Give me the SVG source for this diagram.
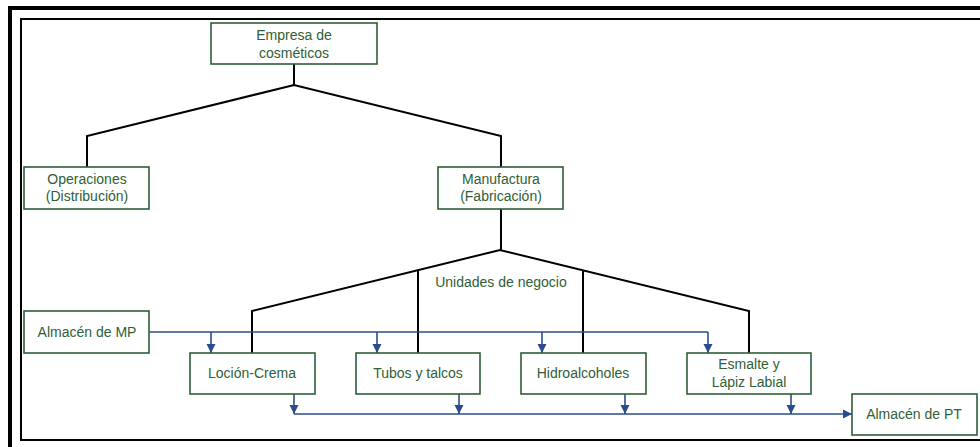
<svg xmlns="http://www.w3.org/2000/svg" width="980" height="447" viewBox="0 0 980 447">
<style>
.box rect{fill:#fff;stroke:#2F5E37;stroke-width:1.6}
text{font-family:"Liberation Sans",Arial,sans-serif;font-size:14px;fill:#2F5E37;text-anchor:middle;dominant-baseline:central}
.tree{fill:none;stroke:#000;stroke-width:2}
.flow{fill:none;stroke:#2B4C8C;stroke-width:1.6}
</style>
<defs>
<marker id="ah" markerWidth="10" markerHeight="10" refX="9" refY="5" orient="auto" markerUnits="userSpaceOnUse">
<path d="M0,0.5 L9,5 L0,9.5 Z" fill="#2B4C8C"/>
</marker>
</defs>
<rect width="980" height="447" fill="#fff"/>
<g id="frame" fill="none" stroke="#000">
<path d="M10,447 V8 H980" stroke-width="4"/>
<path d="M980,19 H21 V440 H980" stroke-width="2"/>
</g>
<g id="connectors">
<path class="tree" d="M294,64 V85 M87,167 V136 L294,85 L501,136 V167"/>
<path class="tree" d="M501,209 V250 M252,353 V311 L500,250 L749,311 V353 M418,270 V353 M583,270 V353"/>
<path class="flow" d="M149,332 H708"/>
<path class="flow" d="M211,332 V353" marker-end="url(#ah)"/>
<path class="flow" d="M377,332 V353" marker-end="url(#ah)"/>
<path class="flow" d="M542,332 V353" marker-end="url(#ah)"/>
<path class="flow" d="M708,332 V353" marker-end="url(#ah)"/>
<path class="flow" d="M294,414 H852" marker-end="url(#ah)"/>
<path class="flow" d="M294,394 V414" marker-end="url(#ah)"/>
<path class="flow" d="M459,394 V414" marker-end="url(#ah)"/>
<path class="flow" d="M625,394 V414" marker-end="url(#ah)"/>
<path class="flow" d="M791,394 V414" marker-end="url(#ah)"/>
</g>
<g id="empresa" class="box"><rect x="211" y="23" width="166" height="41"/><text x="294" y="35">Empresa de</text><text x="294" y="53">cosméticos</text></g>
<g id="operaciones" class="box"><rect x="24" y="167" width="125" height="42"/><text x="87" y="179">Operaciones</text><text x="87" y="196">(Distribución)</text></g>
<g id="manufactura" class="box"><rect x="438" y="167" width="125" height="42"/><text x="501" y="179">Manufactura</text><text x="501" y="196">(Fabricación)</text></g>
<g id="unidades"><text x="501" y="282">Unidades de negocio</text></g>
<g id="almacen-mp" class="box"><rect x="24" y="311" width="125" height="42"/><text x="87" y="332">Almacén de MP</text></g>
<g id="locion" class="box"><rect x="190" y="353" width="125" height="41"/><text x="252" y="373">Loción-Crema</text></g>
<g id="tubos" class="box"><rect x="356" y="353" width="124" height="41"/><text x="418" y="373">Tubos y talcos</text></g>
<g id="hidro" class="box"><rect x="521" y="353" width="125" height="41"/><text x="583" y="373">Hidroalcoholes</text></g>
<g id="esmalte" class="box"><rect x="687" y="353" width="124" height="41"/><text x="749" y="364">Esmalte y</text><text x="749" y="382">Lápiz Labial</text></g>
<g id="almacen-pt" class="box"><rect x="852" y="394" width="125" height="41"/><text x="914" y="414">Almacén de PT</text></g>
</svg>
